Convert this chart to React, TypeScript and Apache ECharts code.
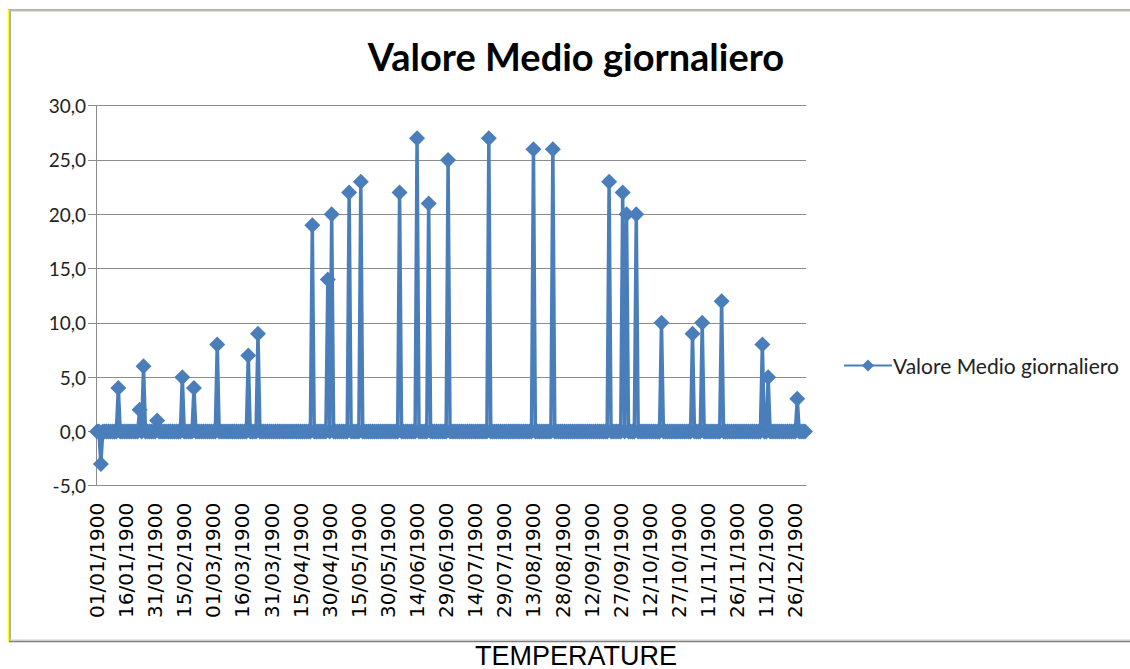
import React, { useEffect, useRef } from "react";
import * as echarts from "echarts";

// Excel's 1900 calendar (includes 29/02/1900)
const monthDays = [31, 29, 31, 30, 31, 30, 31, 31, 30, 31, 30, 31];
const yearLabel = "1900";

// Days with a non-zero daily mean (all other days are 0)
const spikeDates = [
  "03/01", "12/01", "23/01", "25/01", "01/02", "14/02", "20/02", "03/03", "19/03", "24/03",
  "21/04", "29/04", "01/05", "10/05", "16/05", "05/06", "14/06", "20/06", "30/06", "21/07",
  "13/08", "23/08", "21/09", "28/09", "30/09", "05/10", "18/10", "03/11", "08/11", "18/11",
  "09/12", "12/12", "27/12",
];
const spikeValues = [
  -3, 4, 2, 6, 1, 5, 4, 8, 7, 9,
  19, 14, 20, 22, 23, 22, 27, 21, 25, 27,
  26, 26, 23, 22, 20, 20, 10, 9, 10, 12,
  8, 5, 3,
];

const yTicks = { min: -5, max: 30, interval: 5 };
const seriesName = "Valore Medio giornaliero";
const chartTitle = "Valore Medio giornaliero";
const footer = "TEMPERATURE";

const pad = (n: number) => (n < 10 ? "0" + n : "" + n);
const categories: string[] = [];
monthDays.forEach((len, m) => {
  for (let d = 1; d <= len; d++) categories.push(`${pad(d)}/${pad(m + 1)}/${yearLabel}`);
});
const spikeMap: Record<string, number> = {};
spikeDates.forEach((d, i) => (spikeMap[`${d}/${yearLabel}`] = spikeValues[i]));
const values = categories.map((c) => (c in spikeMap ? spikeMap[c] : 0));

const BLUE = "#4A7EBB";

export default function App() {
  const ref = useRef<HTMLDivElement>(null);
  useEffect(() => {
    if (!ref.current) return;
    const chart = echarts.init(ref.current, null, { renderer: "svg" });
    chart.setOption({
      animation: false,
      backgroundColor: "#ffffff",
      grid: { left: 96, right: 324, top: 105.7, bottom: 183.3, containLabel: false },
      xAxis: {
        type: "category",
        data: categories,
        boundaryGap: true,
        axisLine: { onZero: false, lineStyle: { color: "#8c8c8c", width: 1 } },
        axisTick: { show: false },
        axisLabel: {
          interval: 14,
          rotate: 90,
          margin: 17,
          fontFamily: "DejaVu Sans",
          fontSize: 20,
          color: "#000",
        },
        splitLine: { show: false },
      },
      yAxis: {
        type: "value",
        min: yTicks.min,
        max: yTicks.max,
        interval: yTicks.interval,
        axisLine: { show: true, lineStyle: { color: "#8c8c8c", width: 1 } },
        axisTick: { show: true, inside: false, length: 8, lineStyle: { color: "#8c8c8c" } },
        axisLabel: {
          margin: 10,
          fontFamily: "Lato",
          fontSize: 19,
          color: "#222",
          formatter: (v: number) => v.toFixed(1).replace(".", ","),
        },
        splitLine: { show: true, lineStyle: { color: "#8c8c8c", width: 1 } },
      },
      legend: {
        show: true,
        left: 838,
        top: 350,
        orient: "vertical",
        itemWidth: 48,
        itemHeight: 15,
        itemGap: 0,
        textStyle: { fontFamily: "Lato", fontSize: 21, color: "#222", padding: [0, 0, 0, -4] },
        data: [seriesName],
      },
      series: [
        {
          name: seriesName,
          type: "line",
          data: values,
          symbol: "diamond",
          symbolSize: 16,
          showAllSymbol: true,
          lineStyle: { color: BLUE, width: 3.5 },
          itemStyle: { color: BLUE },
          emphasis: { disabled: true },
        },
      ],
      graphic: [
        {
          type: "text",
          x: 576,
          y: 56,
          style: {
            text: chartTitle,
            fontFamily: "Lato",
            fontWeight: "bold",
            fontSize: 38,
            fill: "#000",
            textAlign: "center",
            textVerticalAlign: "middle",
          },
        },
        {
          type: "text",
          x: 576,
          y: 669,
          style: {
            text: footer,
            fontFamily: "Liberation Sans",
            fontSize: 27,
            fill: "#000",
            textAlign: "center",
            textVerticalAlign: "bottom",
          },
        },
        { type: "line", shape: { x1: 8.5, y1: 9, x2: 8.5, y2: 642 }, style: { stroke: "#ffff00", lineWidth: 1.5 } },
        { type: "line", shape: { x1: 10, y1: 10.5, x2: 10, y2: 641 }, style: { stroke: "#9a9a9a", lineWidth: 1.5 } },
        { type: "line", shape: { x1: 8, y1: 9.5, x2: 1130, y2: 9.5 }, style: { stroke: "#c3c34a", lineWidth: 1 } },
        { type: "line", shape: { x1: 10, y1: 10.8, x2: 1130, y2: 10.8 }, style: { stroke: "#9a9a9a", lineWidth: 1 } },
        { type: "line", shape: { x1: 9, y1: 640, x2: 1130, y2: 640 }, style: { stroke: "#cfcfcf", lineWidth: 1 } },
        { type: "line", shape: { x1: 9, y1: 641.5, x2: 1130, y2: 641.5 }, style: { stroke: "#808080", lineWidth: 1.5 } },
      ],
    });
    return () => chart.dispose();
  }, []);
  return (
    <div
      ref={ref}
      style={{ position: "fixed", left: 0, top: 0, width: 1130, height: 669, background: "#fff" }}
    />
  );
}
